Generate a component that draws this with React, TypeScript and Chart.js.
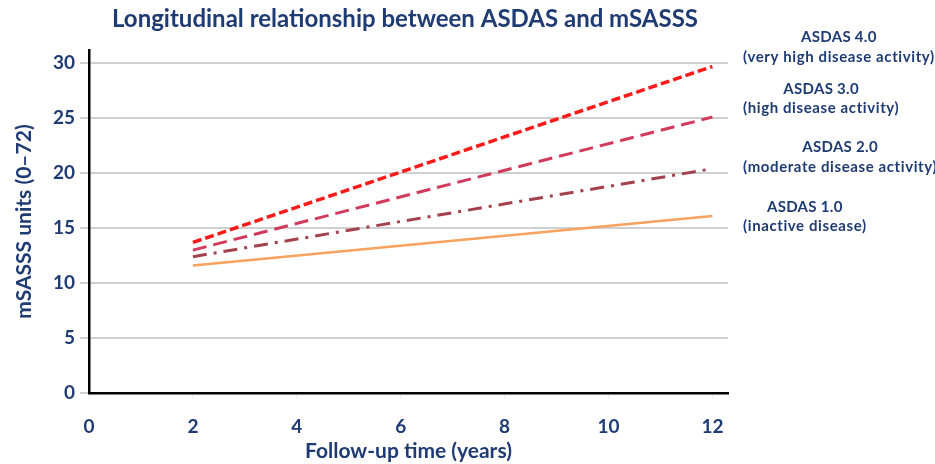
import React, { useEffect, useRef } from "react";
import { Chart, registerables } from "chart.js";

Chart.register(...registerables);

const years = [2, 12];
const asdas4 = [13.7, 29.7];
const asdas3 = [13.0, 25.1];
const asdas2 = [12.4, 20.4];
const asdas1 = [11.6, 16.1];

const seriesNames = ["ASDAS 4.0", "ASDAS 3.0", "ASDAS 2.0", "ASDAS 1.0"];
const seriesDescs = [
  "(very high disease activity)",
  "(high disease activity)",
  "(moderate disease activity)",
  "(inactive disease)",
];
const titleText = "Longitudinal relationship between ASDAS and mSASSS";
const xTitle = "Follow-up time (years)";
const yTitle = "mSASSS units (0\u201372)";

const NAVY = "#1f3b73";
const FONT = "Lato, 'Open Sans', sans-serif";

// label layout (pixel positions of side annotations)
const labelLeft = 743;
const labelRows = [
  [37, 57],
  [89, 108],
  [147, 167],
  [207, 226],
];

const sidePlugin = {
  id: "sideLabels",
  afterDraw(chart: any) {
    const ctx = chart.ctx;
    ctx.save();
    ctx.fillStyle = NAVY;
    ctx.textBaseline = "middle";
    // title
    ctx.font = `bold 24px ${FONT}`;
    ctx.textAlign = "center";
    ctx.fillText(titleText, 405, 19);
    // side labels
    ctx.font = `bold 15px ${FONT}`;
    seriesNames.forEach((name, i) => {
      const desc = seriesDescs[i];
      ctx.letterSpacing = "0.6px";
      const w = ctx.measureText(desc).width;
      const cx = labelLeft + w / 2;
      ctx.textAlign = "center";
      ctx.fillText(desc, cx, labelRows[i][1]);
      ctx.letterSpacing = "0.3px";
      ctx.fillText(name, cx, labelRows[i][0]);
    });
    ctx.restore();
  },
};

export default function App() {
  const ref = useRef<HTMLCanvasElement>(null);
  useEffect(() => {
    document.body.style.margin = "0";
    const mk = (arr: number[]) => years.map((x, i) => ({ x, y: arr[i] }));
    const chart = new Chart(ref.current as HTMLCanvasElement, {
      type: "line",
      data: {
        datasets: [
          { label: seriesNames[3], data: mk(asdas1), borderColor: "#f7a25e", borderWidth: 2.5, pointRadius: 0 },
          { label: seriesNames[2], data: mk(asdas2), borderColor: "#a3424c", borderWidth: 3, borderDash: [14, 7, 3, 7], pointRadius: 0 },
          { label: seriesNames[1], data: mk(asdas3), borderColor: "#d23a5c", borderWidth: 3, borderDash: [14, 7], pointRadius: 0 },
          { label: seriesNames[0], data: mk(asdas4), borderColor: "#ff1a1a", borderWidth: 3.5, borderDash: [9, 4], pointRadius: 0 },
        ],
      },
      options: {
        animation: false,
        responsive: false,
        layout: { padding: { top: 50, right: 207, left: 0, bottom: 0 } },
        plugins: { legend: { display: false }, title: { display: false }, tooltip: { enabled: false } },
        scales: {
          x: {
            type: "linear",
            min: 0,
            max: 12.3,
            afterBuildTicks: (s: any) => {
              s.ticks = [0, 2, 4, 6, 8, 10, 12].map((v) => ({ value: v }));
            },
            afterFit: (s: any) => {
              s.height = 71;
            },
            grid: { display: true, drawOnChartArea: false, color: "#eeeeee", tickLength: 6 },
            border: { color: "#000", width: 2.5 },
            ticks: { color: NAVY, font: { family: FONT, size: 19, weight: "bold" }, padding: 16 },
            title: { display: true, text: xTitle, color: NAVY, font: { family: FONT, size: 21, weight: "bold" }, padding: { top: 0, bottom: 0 } },
          },
          y: {
            type: "linear",
            min: 0,
            max: 31.2,
            afterBuildTicks: (s: any) => {
              s.ticks = [0, 5, 10, 15, 20, 25, 30].map((v) => ({ value: v }));
            },
            afterFit: (s: any) => {
              s.width = 89;
            },
            grid: { color: "#cfcfcf", lineWidth: 2, tickLength: 9 },
            border: { color: "#000", width: 2.5 },
            ticks: { color: NAVY, font: { family: FONT, size: 19, weight: "bold" }, padding: 5 },
            title: { display: true, text: yTitle, color: NAVY, font: { family: FONT, size: 21, weight: "bold" }, padding: { top: 12, bottom: 0 } },
          },
        },
      },
      plugins: [sidePlugin],
    } as any);
    return () => chart.destroy();
  }, []);
  return (
    <div style={{ width: 935, height: 464, background: "#fff" }}>
      <canvas ref={ref} width={935} height={464} />
    </div>
  );
}
